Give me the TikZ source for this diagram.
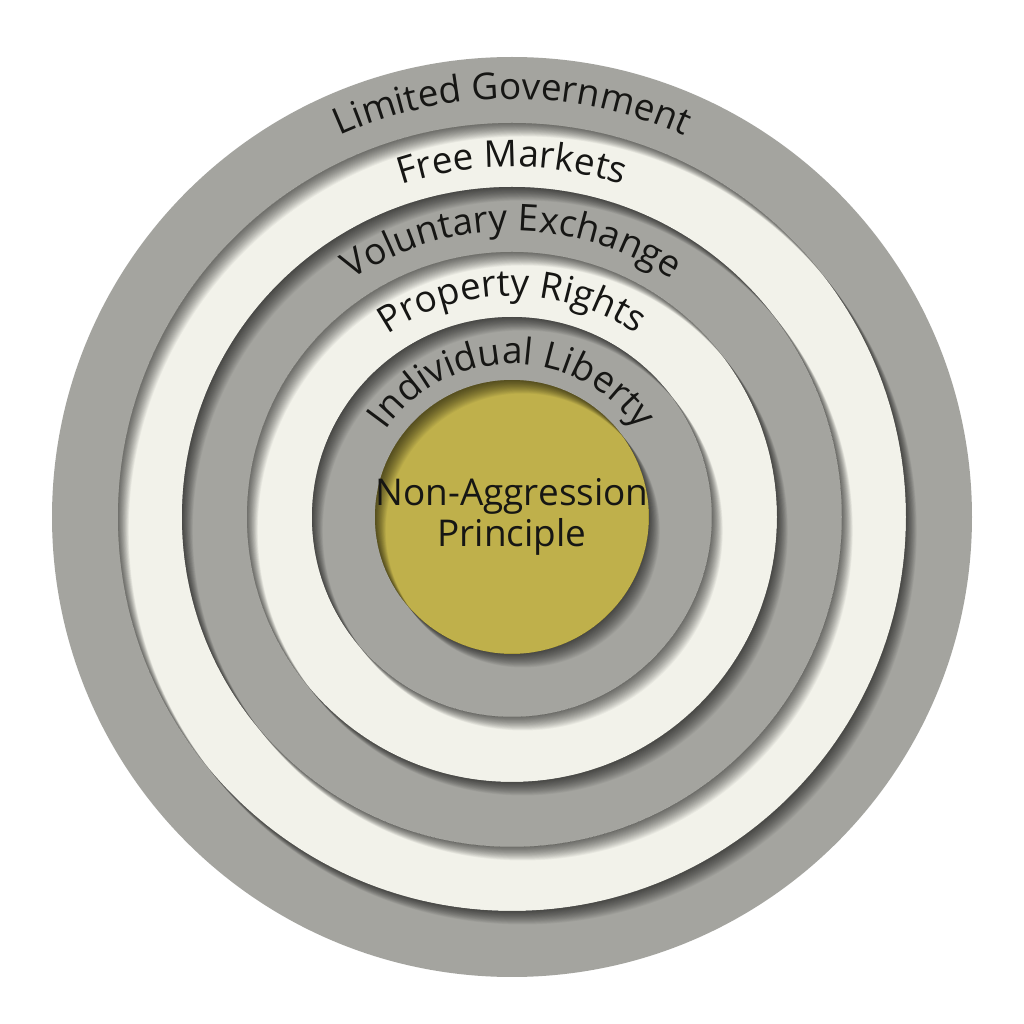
\documentclass[tikz,border=0pt]{standalone}
\usepackage{fontspec}
\setmainfont{Open Sans}
\usetikzlibrary{decorations.text,calc}
\definecolor{ringgray}{RGB}{164,164,159}
\definecolor{ringwhite}{RGB}{242,242,234}
\definecolor{olivefill}{RGB}{191,176,75}
\definecolor{txt}{RGB}{22,22,20}
\newcommand\ringlbl{\fontsize{21}{25}\selectfont\color{txt}}
\newcommand\discshadow[1]{%
  \foreach \dd in {0.015,0.03,...,0.28}{%
    \fill[black,opacity=0.04,even odd rule] (C) circle (#1) ($(C)+(0.8*\dd,-\dd)$) circle (#1);}}
\tikzset{
  ringtext/.style={decorate,decoration={text along path,text align=center,text={|\ringlbl|#1}}}
}
\begin{document}
\begin{tikzpicture}
\useasboundingbox (0,0) rectangle (20.48,20.48);
\fill[white] (0,0) rectangle (20.48,20.48);
\coordinate (C) at (10.24,10.14);
% discs
\fill[ringgray] (C) circle (9.2);
\fill[ringwhite] (C) circle (7.88); \discshadow{7.88}
\fill[ringgray] (C) circle (6.6); \discshadow{6.6}
\fill[ringwhite] (C) circle (5.3); \discshadow{5.3}
\fill[ringgray] (C) circle (4.0); \discshadow{4.0}
\fill[olivefill] (C) circle (2.74); \discshadow{2.74}
% ring labels
\path[ringtext={Limited Government}] ($(C)+(180:8.36)$) arc (180:0:8.36);
\path[ringtext={Free Markets}] ($(C)+(180:7.0)$) arc (180:0:7.0);
\path[ringtext={Voluntary Exchange}] ($(C)+(180:5.72)$) arc (180:0:5.72);
\path[ringtext={Property Rights}] ($(C)+(180:4.42)$) arc (180:0:4.42);
\path[ringtext={Individual Liberty}] ($(C)+(180:3.06)$) arc (180:0:3.06);
% center label
\node[font=\fontsize{21}{23.5}\selectfont, text=txt, align=center] (nap) at (C) {Non-Aggression\\Principle};
\end{tikzpicture}
\end{document}
